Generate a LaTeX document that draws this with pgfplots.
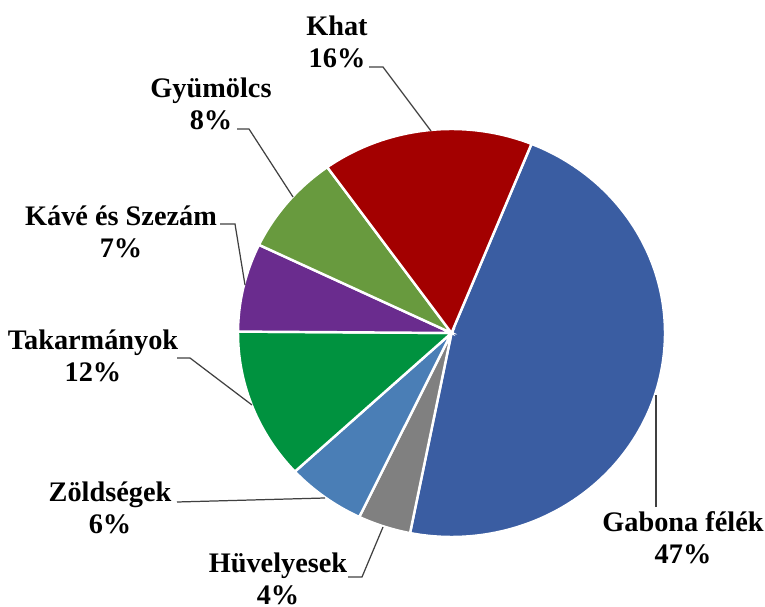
\documentclass[border=0pt]{standalone}
\usepackage{pgfplots}
\pgfplotsset{compat=1.18}
\usepackage{fontspec}
\setmainfont{Liberation Serif}
\definecolor{cGab}{HTML}{3A5DA2}
\definecolor{cHuv}{HTML}{808080}
\definecolor{cZol}{HTML}{4A7EB6}
\definecolor{cTak}{HTML}{00923F}
\definecolor{cKav}{HTML}{6A2C8E}
\definecolor{cGyu}{HTML}{689A3E}
\definecolor{cKha}{HTML}{A30000}
\definecolor{cLead}{HTML}{404040}
% pie centre and radii (picture units)
\def\cx{451.5}
\def\cy{273}
\def\rx{213.5}
\def\ry{204}
\def\st{68}
\begin{document}
\begin{tikzpicture}
\begin{axis}[
  width=7.65cm, height=6.06cm, scale only axis,
  xmin=0, xmax=765, ymin=0, ymax=606,
  hide axis, clip=false,
]
\path (axis cs:0,0) rectangle (axis cs:765,606);
% slices: values in percent (Gabona 47, Hüvelyesek 4, Zöldségek 6, Takarmányok 12, Kávé 7, Gyümölcs 8, Khat 16)
\pgfplotsset{slice/.style={draw=white, line width=0.7pt, samples=60, no marks, smooth}}
\addplot[slice, fill=cGab, domain={\st-47*3.6}:{\st}]
  ({\cx+\rx*cos(x)},{\cy+\ry*sin(x)}) -- (axis cs:\cx,\cy) -- cycle;
\addplot[slice, fill=cHuv, domain={\st-51*3.6}:{\st-47*3.6}]
  ({\cx+\rx*cos(x)},{\cy+\ry*sin(x)}) -- (axis cs:\cx,\cy) -- cycle;
\addplot[slice, fill=cZol, domain={\st-57*3.6}:{\st-51*3.6}]
  ({\cx+\rx*cos(x)},{\cy+\ry*sin(x)}) -- (axis cs:\cx,\cy) -- cycle;
\addplot[slice, fill=cTak, domain={\st-69*3.6}:{\st-57*3.6}]
  ({\cx+\rx*cos(x)},{\cy+\ry*sin(x)}) -- (axis cs:\cx,\cy) -- cycle;
\addplot[slice, fill=cKav, domain={\st-76*3.6}:{\st-69*3.6}]
  ({\cx+\rx*cos(x)},{\cy+\ry*sin(x)}) -- (axis cs:\cx,\cy) -- cycle;
\addplot[slice, fill=cGyu, domain={\st-84*3.6}:{\st-76*3.6}]
  ({\cx+\rx*cos(x)},{\cy+\ry*sin(x)}) -- (axis cs:\cx,\cy) -- cycle;
\addplot[slice, fill=cKha, domain={\st-100*3.6}:{\st-84*3.6}]
  ({\cx+\rx*cos(x)},{\cy+\ry*sin(x)}) -- (axis cs:\cx,\cy) -- cycle;
% leader lines
\pgfplotsset{lead/.style={draw=cLead, line width=0.35pt, no marks}}
\addplot[lead] coordinates {(369,539) (383,539) (431,475)};
\addplot[lead] coordinates {(237,477) (249,477) (293,409)};
\addplot[lead] coordinates {(220,382) (235,382) (245,321)};
\addplot[lead] coordinates {(177,248) (190,248) (252,201)};
\addplot[lead] coordinates {(177,104) (325,108)};
\addplot[lead] coordinates {(348,29) (362,29) (383,79)};
\addplot[lead] coordinates {(656,99) (656,211)};
% labels
\tikzset{lab/.style={align=center, inner sep=0pt, font=\fontsize{8.05}{9.1}\selectfont\bfseries}}
\node[lab] at (axis cs:337,564.5) {Khat\\16\%};
\node[lab] at (axis cs:211,502) {Gyümölcs\\8\%};
\node[lab] at (axis cs:121,374) {Kávé és Szezám\\7\%};
\node[lab] at (axis cs:93,250.5) {Takarmányok\\12\%};
\node[lab] at (axis cs:110,98.5) {Zöldségek\\6\%};
\node[lab] at (axis cs:278,27) {Hüvelyesek\\4\%};
\node[lab] at (axis cs:683,68) {Gabona félék\\47\%};
\end{axis}
\end{tikzpicture}
\end{document}
